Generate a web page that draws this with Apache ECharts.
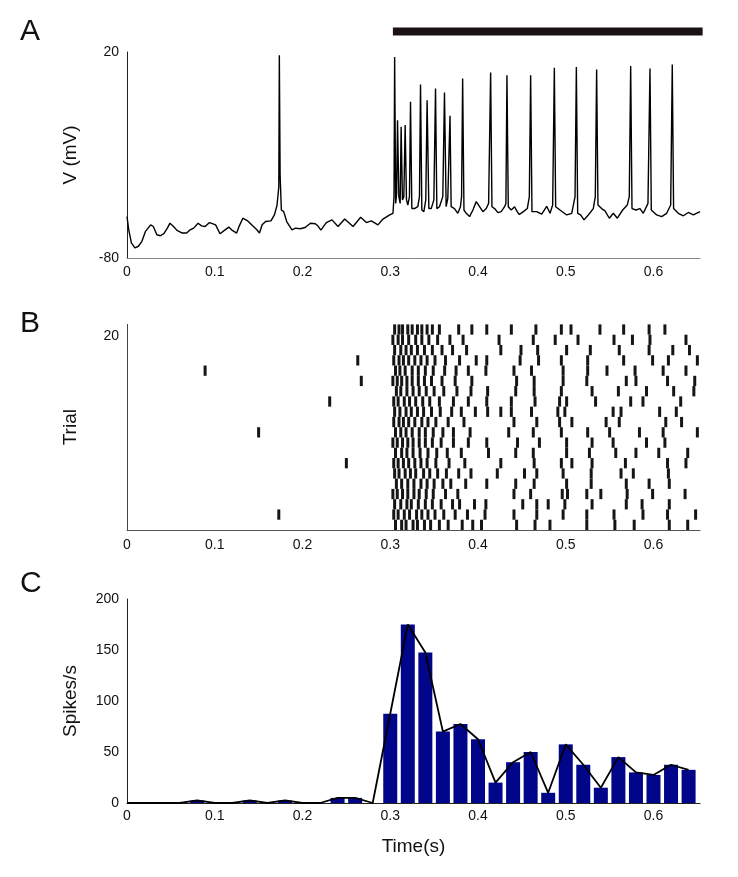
<!DOCTYPE html>
<html>
<head>
<meta charset="utf-8">
<script src="https://cdn.jsdelivr.net/npm/echarts@6/dist/echarts.min.js"></script>
<style>
html,body{margin:0;padding:0;background:#fff;}
#chart{width:738px;height:877px;}
</style>
</head>
<body>
<div id="chart"></div>
<script>
// ---------- Panel A: membrane potential trace ----------
const traceT = [0.000,0.002,0.005,0.009,0.013,0.017,0.021,0.027,0.030,0.034,0.038,0.042,0.046,0.049,0.053,0.057,0.063,0.068,0.072,0.076,0.081,0.085,0.089,0.094,0.098,0.101,0.106,0.111,0.116,0.120,0.125,0.128,0.132,0.137,0.142,0.148,0.151,0.154,0.158,0.164,0.168,0.171,0.173,0.1736,0.1745,0.1759,0.1786,0.182,0.188,0.192,0.1975,0.203,0.209,0.2146,0.2177,0.2210,0.2271,0.2336,0.2405,0.2481,0.2576,0.2663,0.2728,0.2784,0.286,0.2917,0.2994,0.3031,0.3043,0.3050,0.3062,0.3073,0.3083,0.3098,0.3113,0.3124,0.3139,0.3155,0.3170,0.3185,0.3200,0.3219,0.3231,0.3246,0.3276,0.3314,0.3333,0.3345,0.3360,0.3383,0.3405,0.3420,0.3440,0.3467,0.3497,0.3516,0.3531,0.3561,0.3599,0.3618,0.3637,0.3656,0.3681,0.3694,0.3732,0.3770,0.3800,0.3813,0.3825,0.3840,0.3866,0.3904,0.3942,0.3980,0.4018,0.4056,0.4094,0.4121,0.4144,0.4159,0.4189,0.4227,0.4265,0.4303,0.4318,0.4330,0.4345,0.4379,0.4417,0.4447,0.4471,0.4517,0.4562,0.4585,0.4600,0.4615,0.4669,0.4726,0.4783,0.4821,0.4851,0.4870,0.4885,0.4934,0.5011,0.5068,0.5106,0.5121,0.5136,0.5170,0.5208,0.5257,0.5314,0.5337,0.5352,0.5367,0.5409,0.5447,0.5497,0.5542,0.5588,0.5649,0.5701,0.5724,0.5740,0.5755,0.5800,0.5846,0.5884,0.5937,0.5960,0.5975,0.6036,0.6093,0.6150,0.6196,0.6214,0.6229,0.6283,0.6340,0.6397,0.6454,0.6530];
const traceV = [-59.9,-66.3,-72.7,-75.1,-74.3,-71.9,-67.1,-63.9,-64.7,-68.7,-69.2,-68.2,-65.5,-63.1,-64.7,-66.6,-67.9,-67.9,-66.3,-65.5,-63.1,-64.4,-64.7,-62.8,-63.4,-63.9,-68.2,-66.6,-65.0,-66.6,-67.9,-64.4,-60.7,-61.8,-63.9,-66.3,-67.9,-63.9,-62.3,-62.0,-59.1,-54.3,-45.4,18.4,-40.0,-56.7,-57.5,-62.3,-66.3,-65.5,-65.8,-65.2,-63.1,-63.4,-64.5,-66.5,-62.8,-61.5,-64.7,-61.1,-64.7,-60.2,-62.8,-62.0,-63.9,-61.1,-59.1,-58.3,-50.2,17.6,-53.5,-48.6,-13.1,-50.2,-53.5,-16.3,-51.8,-50.2,-15.5,-51.8,-54.3,-50.2,-4.2,-56.0,-56.0,-55.1,-50.2,4.2,-56.7,-57.5,-51.8,-3.4,-56.0,-56.0,-51.8,2.3,-56.0,-55.1,-50.2,0.3,-55.1,-51.0,-11.0,-55.1,-56.0,-58.3,-55.1,-50.2,7.1,-56.7,-58.3,-59.9,-56.7,-52.6,-55.1,-57.5,-56.0,-53.5,10.0,-55.1,-56.0,-58.0,-57.5,-55.1,-53.5,8.7,-55.1,-56.7,-55.1,-57.5,-58.9,-57.5,-56.0,-50.2,8.7,-57.5,-57.5,-58.7,-54.9,-58.3,-54.3,12.4,-55.1,-56.7,-59.1,-58.3,-50.2,12.7,-58.3,-59.1,-61.5,-59.1,-56.0,-50.2,11.5,-54.3,-56.0,-57.1,-60.7,-58.3,-60.7,-56.7,-54.3,-50.2,13.2,-56.0,-56.7,-56.0,-58.3,-53.5,12.0,-56.7,-59.1,-59.9,-58.3,-54.3,13.9,-56.0,-58.3,-59.5,-57.9,-59.1,-57.5];
const stimulusWindow = [0.303, 0.656];   // black bar above panel A (s)
const stimulusLevel = 30;                // drawn above the 20 mV top

// ---------- Panel B: raster, spike times per trial (trial 1 = bottom) ----------
const rasterTrials = [
  [0.306,0.313,0.318,0.326,0.331,0.339,0.346,0.356,0.366,0.382,0.394,0.404,0.444,0.465,0.482,0.524,0.556,0.578,0.618,0.639],
  [0.173,0.304,0.309,0.316,0.322,0.330,0.336,0.343,0.351,0.361,0.374,0.388,0.408,0.441,0.467,0.497,0.524,0.555,0.588,0.616,0.648],
  [0.305,0.312,0.319,0.324,0.332,0.340,0.348,0.358,0.371,0.379,0.396,0.409,0.451,0.467,0.480,0.499,0.530,0.569,0.587,0.618],
  [0.303,0.308,0.314,0.320,0.327,0.333,0.341,0.349,0.363,0.377,0.441,0.460,0.496,0.502,0.524,0.540,0.570,0.599,0.636],
  [0.307,0.313,0.320,0.327,0.335,0.342,0.350,0.360,0.369,0.386,0.410,0.443,0.464,0.501,0.529,0.569,0.595,0.618],
  [0.305,0.310,0.317,0.323,0.329,0.338,0.345,0.354,0.364,0.378,0.392,0.422,0.453,0.467,0.497,0.529,0.563,0.577,0.617],
  [0.250,0.304,0.309,0.315,0.321,0.328,0.335,0.342,0.352,0.367,0.385,0.426,0.464,0.495,0.507,0.530,0.568,0.616,0.637],
  [0.306,0.313,0.319,0.326,0.334,0.343,0.353,0.365,0.381,0.412,0.443,0.463,0.501,0.527,0.557,0.580,0.606,0.639],
  [0.303,0.308,0.314,0.320,0.326,0.333,0.340,0.348,0.358,0.372,0.389,0.410,0.445,0.470,0.501,0.530,0.554,0.592,0.613],
  [0.150,0.306,0.312,0.318,0.325,0.333,0.340,0.349,0.360,0.372,0.391,0.435,0.463,0.495,0.525,0.550,0.584,0.611,0.650],
  [0.304,0.310,0.315,0.321,0.328,0.336,0.343,0.352,0.366,0.384,0.441,0.467,0.493,0.507,0.546,0.561,0.614,0.632],
  [0.305,0.311,0.318,0.324,0.331,0.338,0.347,0.357,0.370,0.381,0.397,0.411,0.426,0.438,0.461,0.491,0.499,0.554,0.563,0.607,0.626],
  [0.231,0.304,0.309,0.316,0.322,0.329,0.337,0.345,0.356,0.372,0.389,0.410,0.438,0.465,0.493,0.501,0.534,0.574,0.588,0.631],
  [0.307,0.312,0.319,0.326,0.333,0.341,0.350,0.361,0.376,0.392,0.411,0.443,0.464,0.495,0.530,0.560,0.592,0.623,0.646],
  [0.267,0.303,0.308,0.313,0.319,0.325,0.332,0.339,0.347,0.359,0.374,0.393,0.444,0.464,0.497,0.524,0.569,0.580,0.616,0.647],
  [0.089,0.306,0.311,0.317,0.325,0.332,0.340,0.349,0.362,0.375,0.389,0.409,0.441,0.461,0.497,0.525,0.547,0.579,0.611,0.637],
  [0.263,0.304,0.310,0.315,0.321,0.328,0.335,0.342,0.351,0.363,0.379,0.398,0.410,0.448,0.469,0.495,0.525,0.566,0.599,0.617,0.650],
  [0.305,0.312,0.318,0.324,0.331,0.339,0.348,0.359,0.371,0.387,0.426,0.449,0.468,0.501,0.528,0.561,0.595,0.622,0.641],
  [0.303,0.309,0.314,0.321,0.329,0.336,0.344,0.354,0.368,0.383,0.424,0.463,0.488,0.514,0.555,0.576,0.596,0.637],
  [0.305,0.310,0.314,0.320,0.325,0.331,0.336,0.342,0.348,0.356,0.378,0.393,0.410,0.438,0.466,0.495,0.506,0.539,0.566,0.595,0.613]
];

// ---------- Panel C: PSTH (bin centres, spikes/s) ----------
const binCenters = [0.00,0.02,0.04,0.06,0.08,0.10,0.12,0.14,0.16,0.18,0.20,0.22,0.24,0.26,0.28,0.30,0.32,0.34,0.36,0.38,0.40,0.42,0.44,0.46,0.48,0.50,0.52,0.54,0.56,0.58,0.60,0.62,0.64];
const rates = [0,0,0,0,2.5,0,0,2.5,0,2.5,0,0,5,5,0,87.5,175,147.5,70,77.5,62.5,20,40,50,10,57.5,37.5,15,45,30,27.5,37.5,32.5];

// ---------- build ----------
const FONT = 'Liberation Sans, Arial, Helvetica, sans-serif';
const X_MAX = 0.653;
const ROW = 1.06;

const traceData = traceT.map((t, i) => [t, traceV[i]]);
const rasterData = [];
rasterTrials.forEach((spikes, k) => spikes.forEach(t => rasterData.push([t, k + 1])));
const psthData = binCenters.map((c, i) => [c, rates[i]]);

function xAxisCfg(gi, color, margin, extra) {
  return Object.assign({
    type: 'value', gridIndex: gi, min: 0, max: X_MAX, interval: 0.1,
    axisLine: { show: true, onZero: false, lineStyle: { color: color, width: 1 } },
    axisTick: { show: false }, splitLine: { show: false },
    axisLabel: { color: '#111', fontFamily: FONT, fontSize: 14, margin: margin, showMaxLabel: false,
      formatter: v => (v > 0.65 ? '' : String(+v.toFixed(1))) }
  }, extra || {});
}

const chart = echarts.init(document.getElementById('chart'));
chart.setOption({
  animation: false,
  backgroundColor: '#fff',
  grid: [
    { left: 127, top: 52, width: 573, height: 206 },
    { left: 127, top: 324.4, width: 573, height: 205.6 },
    { left: 127, top: 599, width: 573, height: 204 }
  ],
  xAxis: [
    xAxisCfg(0, '#888', 7),
    xAxisCfg(1, '#555', 8),
    xAxisCfg(2, '#222', 6, { name: 'Time(s)', nameLocation: 'middle', nameGap: 34,
      nameTextStyle: { color: '#111', fontFamily: FONT, fontSize: 19 } })
  ],
  yAxis: [
    { type: 'value', gridIndex: 0, min: -80, max: 20, interval: 10,
      name: 'V (mV)', nameLocation: 'middle', nameGap: 47, nameRotate: 90,
      nameTextStyle: { color: '#111', fontFamily: FONT, fontSize: 19 },
      axisLine: { show: true, onZero: false, lineStyle: { color: '#222', width: 1 } },
      axisTick: { show: false }, splitLine: { show: false },
      axisLabel: { color: '#111', fontFamily: FONT, fontSize: 14, margin: 8,
        formatter: v => (v === 20 || v === -80 ? String(v) : '') } },
    { type: 'value', gridIndex: 1, min: 0, max: 21.2, interval: 10,
      name: 'Trial', nameLocation: 'middle', nameGap: 47, nameRotate: 90,
      nameTextStyle: { color: '#111', fontFamily: FONT, fontSize: 19 },
      axisLine: { show: true, onZero: false, lineStyle: { color: '#444', width: 1 } },
      axisTick: { show: false }, splitLine: { show: false },
      axisLabel: { color: '#111', fontFamily: FONT, fontSize: 14, margin: 8,
        formatter: v => (v === 20 ? '20' : '') } },
    { type: 'value', gridIndex: 2, min: 0, max: 200, interval: 50,
      name: 'Spikes/s', nameLocation: 'middle', nameGap: 47, nameRotate: 90,
      nameTextStyle: { color: '#111', fontFamily: FONT, fontSize: 19 },
      axisLine: { show: true, onZero: false, lineStyle: { color: '#222', width: 1 } },
      axisTick: { show: false }, splitLine: { show: false },
      axisLabel: { color: '#111', fontFamily: FONT, fontSize: 14, margin: 8 } }
  ],
  graphic: [
    { type: 'text', left: 20, top: 17, style: { text: 'A', font: '30px ' + FONT, fill: '#111' } },
    { type: 'text', left: 20, top: 309, style: { text: 'B', font: '30px ' + FONT, fill: '#111' } },
    { type: 'text', left: 20, top: 569, style: { text: 'C', font: '30px ' + FONT, fill: '#111' } }
  ],
  series: [
    { type: 'line', xAxisIndex: 0, yAxisIndex: 0, data: traceData, showSymbol: false,
      lineStyle: { color: '#000', width: 1.4 }, z: 3 },
    { type: 'line', xAxisIndex: 0, yAxisIndex: 0, clip: false, showSymbol: false,
      data: [[stimulusWindow[0], stimulusLevel], [stimulusWindow[1], stimulusLevel]],
      lineStyle: { color: '#1a1212', width: 8, cap: 'butt' } },
    { type: 'custom', xAxisIndex: 1, yAxisIndex: 1, data: rasterData,
      renderItem: function (params, api) {
        const trial = api.value(1);
        const p = api.coord([api.value(0), (trial - 1) * ROW + ROW / 2]);
        const h = api.size([0, ROW])[1];
        return { type: 'rect', shape: { x: p[0] - 1.5, y: p[1] - h / 2, width: 3, height: h },
          style: { fill: '#151515' } };
      } },
    { type: 'bar', xAxisIndex: 2, yAxisIndex: 2, data: psthData, barWidth: 14,
      itemStyle: { color: '#00058a' }, z: 2 },
    { type: 'line', xAxisIndex: 2, yAxisIndex: 2, data: psthData, showSymbol: false,
      lineStyle: { color: '#000', width: 1.8 }, z: 3 }
  ]
});
</script>
</body>
</html>
